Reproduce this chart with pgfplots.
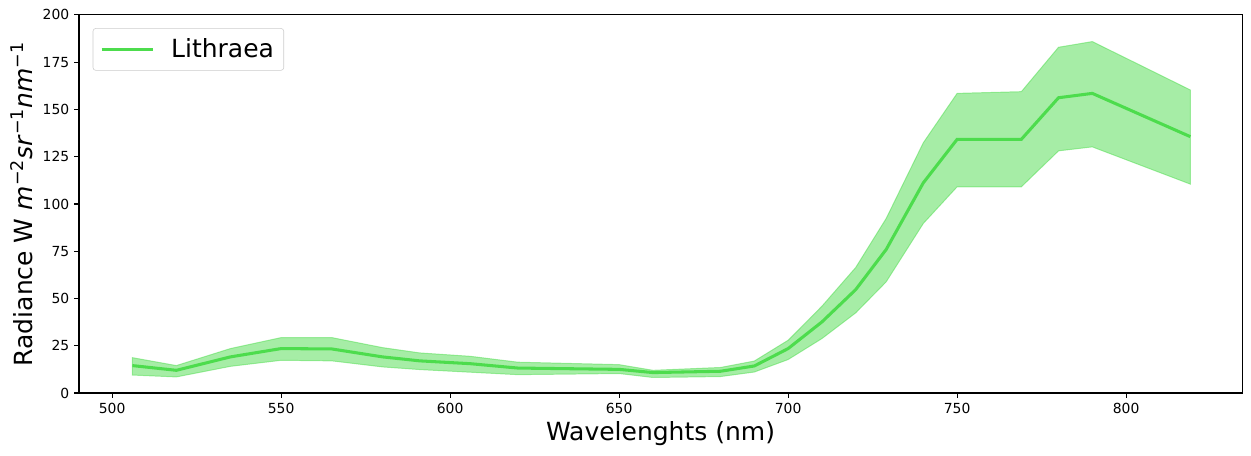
\documentclass[border=0pt]{standalone}
\usepackage{pgfplots}
\pgfplotsset{compat=1.18}
\usepackage{pgfplotstable}
\usepackage{fontspec}
\setmainfont{DejaVu Sans}
\definecolor{lgreen}{RGB}{77,220,77}
\pgfplotstableread{
x lo mean hi
506 9.5 14.5 18.7
519 8.5 12.0 14.5
535 14.1 19.1 23.5
550 17.3 23.5 29.3
565 17.0 23.3 29.3
580 13.8 19.1 24.0
591 12.4 17.0 21.2
606 11.0 15.5 19.4
620 9.7 13.2 16.3
650 10.3 12.5 15.0
660 8.2 10.8 12.0
680 8.7 11.5 13.5
690 11.1 14.3 16.9
700 17.7 23.5 27.9
710 28.8 37.6 45.9
720 42.4 54.7 66.4
729 58.8 75.9 92.3
740 89.7 111.2 132.4
750 109.1 134.2 158.5
769 109.1 134.2 159.4
780 128.1 156.2 182.9
790 130.2 158.5 185.9
819 110.5 135.6 160.3
}\datatab
% band outline: upper edge left to right, then lower edge right to left
\pgfplotstableread{
x y
506 18.7
519 14.5
535 23.5
550 29.3
565 29.3
580 24.0
591 21.2
606 19.4
620 16.3
650 15.0
660 12.0
680 13.5
690 16.9
700 27.9
710 45.9
720 66.4
729 92.3
740 132.4
750 158.5
769 159.4
780 182.9
790 185.9
819 160.3
819 110.5
790 130.2
780 128.1
769 109.1
750 109.1
740 89.7
729 58.8
720 42.4
710 28.8
700 17.7
690 11.1
680 8.7
660 8.2
650 10.3
620 9.7
606 11.0
591 12.4
580 13.8
565 17.0
550 17.3
535 14.1
519 8.5
506 9.5
}\bandtab
\begin{document}
\begin{tikzpicture}
\useasboundingbox (0,0) rectangle (900.72pt,328.32pt);
\begin{axis}[
  at={(56.88pt,45.36pt)}, anchor=south west,
  scale only axis, width=837.4pt, height=272.2pt,
  xmin=490.2, xmax=834.3, ymin=0, ymax=200,
  xtick={500,550,...,800}, ytick={0,25,...,200},
  xtick pos=left, ytick pos=left,
  tick align=outside, major tick length=3.5pt,
  every tick/.style={black, line width=0.8pt},
  axis line style={line width=0.8pt},
  /pgf/number format/assume math mode=true,
  /pgf/number format/1000 sep={},
  tick label style={font=\fontsize{10}{12}\selectfont},
  xlabel={Wavelenghts (nm)},
  ylabel={Radiance W \textit{m}\textsuperscript{−2}\textit{sr}\textsuperscript{−1}\textit{nm}\textsuperscript{−1}},
  label style={font=\fontsize{18}{21}\selectfont},
  xlabel style={at={(axis description cs:0.5,-0.107)}, anchor=center},
  ylabel style={at={(axis description cs:-0.049,0.5)}, anchor=center},
  legend style={at={(0.0118,0.965)}, anchor=north west,
    font=\fontsize{18}{21}\selectfont, draw=black!20, rounded corners=2pt,
    fill=white, fill opacity=0.8, text opacity=1,
    inner xsep=5pt, inner ysep=5.5pt,
    /tikz/every odd column/.append style={column sep=10pt}},
  legend cell align=left,
  legend image code/.code={\draw[#1, line width=2.3pt] (0pt,0pt) -- (37pt,0pt);},
]
\addplot[fill=lgreen, fill opacity=0.5, draw=lgreen, draw opacity=0.5, line width=0.7pt, forget plot] table[x=x, y=y] {\bandtab} -- cycle;
\addplot[lgreen, line width=2.2pt] table[x=x, y=mean] {\datatab};
\addlegendentry{Lithraea}
\end{axis}
\end{tikzpicture}
\end{document}
